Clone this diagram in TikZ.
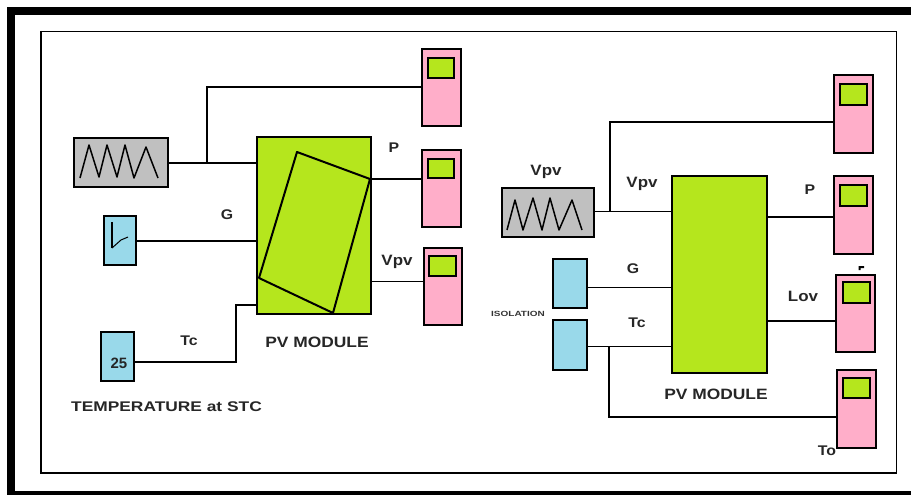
\documentclass[tikz,border=0pt]{standalone}
\usepackage{fontspec}
\setmainfont{Liberation Sans}
\definecolor{pvgreen}{HTML}{B5E61D}
\definecolor{mpink}{HTML}{FFAEC9}
\definecolor{sblue}{HTML}{99D9EA}
\definecolor{sgray}{HTML}{C0C0C0}
\newcommand\lblstretch[2][1.13]{\scalebox{#1}[1]{\bfseries #2}}
\newcommand\placebox[6]{%
  \pgfmathsetmacro\bxw{#5-#3-2}\pgfmathsetmacro\bxh{#6-#4-2}%
  \pgfmathsetmacro\bxx{(#3+#5)/2}\pgfmathsetmacro\bxy{(#4+#6)/2}%
  \node[#2, minimum width=\bxw pt, minimum height=\bxh pt] (#1) at (\bxx,\bxy) {};}
\newcommand\placemeter[9]{%
  \placebox{#1}{meter}{#2}{#3}{#4}{#5}\placebox{#1s}{screen}{#6}{#7}{#8}{#9}}
\tikzset{
  blk/.style={draw=black,line width=2pt,inner sep=0pt,outer sep=0pt,rectangle},
  meter/.style={blk,fill=mpink},
  screen/.style={blk,fill=pvgreen},
  pv/.style={blk,fill=pvgreen},
  src/.style={blk,fill=sblue},
  sig/.style={blk,fill=sgray},
  wire/.style={draw=black,line width=2pt,line join=miter},
  thin wire/.style={draw=black,line width=1pt},
  zig/.style={draw=black,line width=1.5pt,line join=round},
  lbl/.style={inner sep=0pt,font=\fontsize{14}{16}\selectfont,text=black!85},
  big/.style={inner sep=0pt,font=\fontsize{15}{17}\selectfont,text=black!85},
}
\begin{document}
\begin{tikzpicture}[x=1pt,y=-1pt]
\useasboundingbox (0,0) rectangle (911,495);
% outer band
\fill[black] (7,7) rectangle (911,15);
\fill[black] (7,7) rectangle (15,495);
\fill[black] (7,491) rectangle (911,495);
% inner frame
\draw[black,line width=1.4pt] (40,31.5) -- (896.5,31.5) -- (896.5,473) -- (40,473);
\draw[black,line width=2.6pt] (41,31) -- (41,473.5);

% left part
\placebox{sigL}{sig}{73}{137}{169}{188}
\placebox{clock}{src}{103}{215}{137}{266}
\placebox{const}{src}{100}{331}{135}{382}
\placebox{pvL}{pv}{256}{136}{372}{315}
\placemeter{mLa}{421}{48}{462}{127}{427}{57}{455}{79}
\placemeter{mLb}{421}{149}{462}{228}{427}{158}{455}{179}
\placemeter{mLc}{423}{247}{463}{326}{428}{255}{457}{277}
\draw[zig] (80,178) -- (89,145) -- (99,177) -- (107,145) -- (117,177) -- (125,145) -- (134,178) -- (146,147) -- (158,178);
\draw[black,line width=2pt] (112,222) -- (112,248);
\draw[black,line width=1pt] (112,248) -- (121,240) -- (128,237);
\node[font=\fontsize{15}{17}\selectfont\bfseries,inner sep=0pt,text=black!85] (t25) at (119,363) {25};
\coordinate (rTL) at (297,152);
\coordinate (rTR) at (370,179);
\coordinate (rBR) at (333,313);
\coordinate (rBL) at (259,278);
\draw[black,line width=2pt,line join=round] (rTL) -- (rTR) -- (rBR) -- (rBL) -- cycle;
\coordinate (jL) at (207,162);
\coordinate (cTc) at (135,362);
\coordinate (tcbend) at (236,305);
\draw[wire] (sigL.east) -- (sigL.east -| pvL.west);
\draw[wire] (jL) -- (jL |- mLa.center) -- (mLa.center -| mLa.west);
\draw[wire] (clock.east) -- (clock.east -| pvL.west);
\draw[wire] (rTR) -- (rTR -| mLb.west);
\coordinate (vL) at (371,281);
\draw[thin wire] (vL) -- (vL -| mLc.west);
\draw[wire] (cTc) -- (cTc -| tcbend) -- (tcbend) -- (tcbend -| pvL.west);
\node[lbl] (lP) at (394,148) {\lblstretch{P}};
\node[lbl] (lG) at (227,215) {\lblstretch{G}};
\node[big] (lV) at (397,262) {\lblstretch{Vpv}};
\node[lbl] (lT) at (189,341) {\lblstretch{Tc}};
\node[big] (lM) at (317,342) {\lblstretch[1.16]{PV MODULE}};
\node[lbl] (lS) at (166.5,407) {\lblstretch[1.24]{TEMPERATURE at STC}};

% right part
\placebox{sigR}{sig}{501}{187}{595}{238}
\placebox{isoA}{src}{552}{258}{588}{309}
\placebox{isoB}{src}{552}{319}{588}{371}
\placebox{pvR}{pv}{671}{175}{768}{374}
\placemeter{mRa}{833}{74}{874}{154}{839}{83}{868}{106}
\placemeter{mRb}{833}{175}{874}{255}{839}{184}{868}{207}
\placemeter{mRc}{835}{274}{876}{353}{842}{281}{871}{304}
\placemeter{mRd}{836}{369}{877}{449}{842}{377}{871}{399}
\draw[zig] (507,230) -- (515,200) -- (523,230) -- (533,198) -- (542,230) -- (550,198) -- (559,230) -- (572,200) -- (582,230);
\coordinate (jR) at (610,211.5);
\coordinate (jT) at (609,346);
\coordinate (yP) at (767,217);
\coordinate (yL) at (767,321);
\coordinate (yT) at (609,417);
\draw[thin wire] (sigR.east |- jR) -- (jR -| pvR.west);
\draw[wire] (jR) -- (jR |- 0,122) -- (mRa.west |- 0,122);
\draw[thin wire] (isoA.east |- 0,287) -- (pvR.west |- 0,287);
\draw[thin wire] (isoB.east |- jT) -- (jT -| pvR.west);
\draw[wire] (jT) -- (yT) -- (yT -| mRd.west);
\draw[wire] (pvR.east |- yP) -- (yP -| mRb.west);
\draw[wire] (pvR.east |- yL) -- (yL -| mRc.west);
\node[big] (rV1) at (546,172) {\lblstretch{Vpv}};
\node[big] (rV2) at (642,184) {\lblstretch{Vpv}};
\node[lbl] (rP) at (810,190) {\lblstretch{P}};
\node[lbl] (rG) at (633,269) {\lblstretch{G}};
\node[lbl] (rT) at (637,323) {\lblstretch{Tc}};
\node[big] (rL) at (803,296) {\lblstretch{Lov}};
\node[inner sep=0pt,font=\fontsize{7.5}{9}\selectfont,text=black!80] (rI) at (518,314) {\lblstretch[1.33]{ISOLATION}};
\node[big] (rM) at (716,394) {\lblstretch[1.16]{PV MODULE}};
\node[lbl] (rO) at (827,451) {\lblstretch{To}};
\fill[black] (858.5,266) rectangle (864,268) (858.5,268) rectangle (860.5,270);
\end{tikzpicture}
\end{document}
